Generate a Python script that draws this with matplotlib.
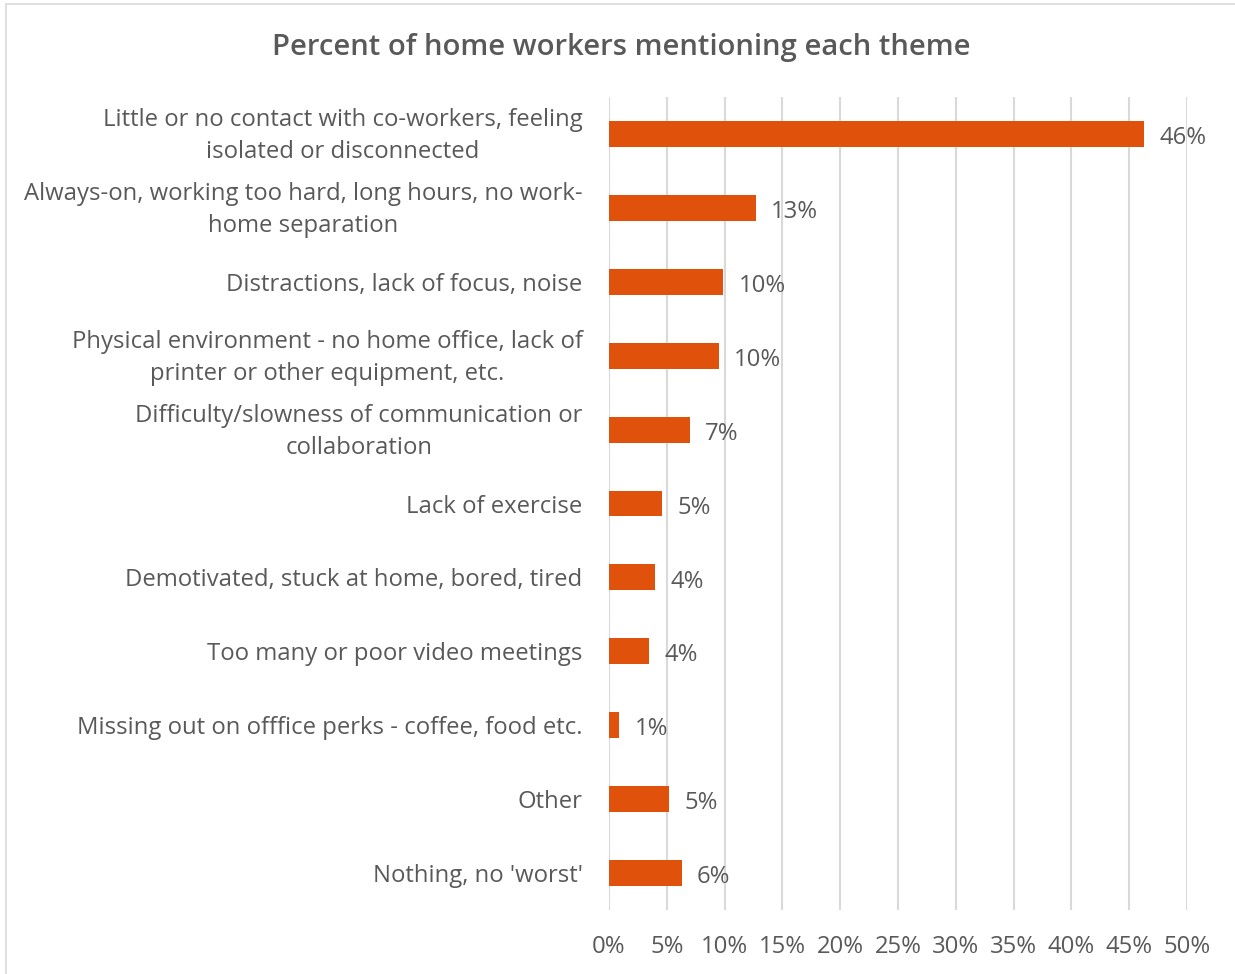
import matplotlib.pyplot as plt
from matplotlib.patches import Rectangle
from matplotlib.transforms import ScaledTranslation

themes = [
    "Little or no contact with co-workers, feeling\nisolated or disconnected",
    "Always-on, working too hard, long hours, no work-\nhome separation",
    "Distractions, lack of focus, noise",
    "Physical environment - no home office, lack of\nprinter or other equipment, etc.",
    "Difficulty/slowness of communication or\ncollaboration",
    "Lack of exercise",
    "Demotivated, stuck at home, bored, tired",
    "Too many or poor video meetings",
    "Missing out on offfice perks - coffee, food etc.",
    "Other",
    "Nothing, no 'worst'",
]
percents = [46.3, 12.7, 9.9, 9.5, 7.0, 4.6, 4.0, 3.5, 0.9, 5.2, 6.3]
xticks = [0, 5, 10, 15, 20, 25, 30, 35, 40, 45, 50]

text_color = "#595959"
bar_color = "#E0510B"
grid_color = "#D9D9D9"

plt.rcParams["font.family"] = ["Open Sans", "DejaVu Sans"]

fig = plt.figure(figsize=(12.35, 9.74), dpi=100)
ax = fig.add_axes([0.4931, 0.0657, 0.4680, 0.8347])

# thin frame around the whole chart area
fig.patches.append(Rectangle((6 / 1235, -0.01), 1.05, 0.01 + (974 - 4) / 974,
                             transform=fig.transFigure, fill=False,
                             edgecolor="#E0E0E0", linewidth=1.5))

y = range(len(themes))
ax.barh(y, percents, height=0.35, color=bar_color, zorder=3)
ax.set_ylim(len(themes) - 0.5, -0.5)
ax.set_xlim(0, 50)

for i, v in enumerate(percents):
    ax.annotate(f"{v:.0f}%", (v, i), xytext=(11, -3), textcoords="offset points",
                va="center", ha="left", fontsize=17.2, color=text_color)

ax.set_xticks(xticks)
ax.set_xticklabels([f"{t}%" for t in xticks], fontsize=17.2, color=text_color)
ax.set_yticks(list(y))
ax.set_yticklabels(themes, fontsize=17.2, color=text_color,
                   multialignment="center", linespacing=1.46)
ax.tick_params(axis="both", length=0)
ax.tick_params(axis="x", pad=18)
ax.tick_params(axis="y", pad=19)
ax.grid(axis="x", color=grid_color, linewidth=1.5, zorder=0)
for side in ax.spines.values():
    side.set_visible(False)

# two-line labels sit a little higher
lift = ScaledTranslation(0, 3.5 / 72, fig.dpi_scale_trans)
for lbl in ax.get_yticklabels():
    if "\n" in lbl.get_text():
        lbl.set_transform(lbl.get_transform() + lift)

fig.text(0.503, 0.951, "Percent of home workers mentioning each theme",
         ha="center", va="center", fontsize=21.1, fontweight="semibold",
         color=text_color)

fig.savefig("out.png", dpi=100)
